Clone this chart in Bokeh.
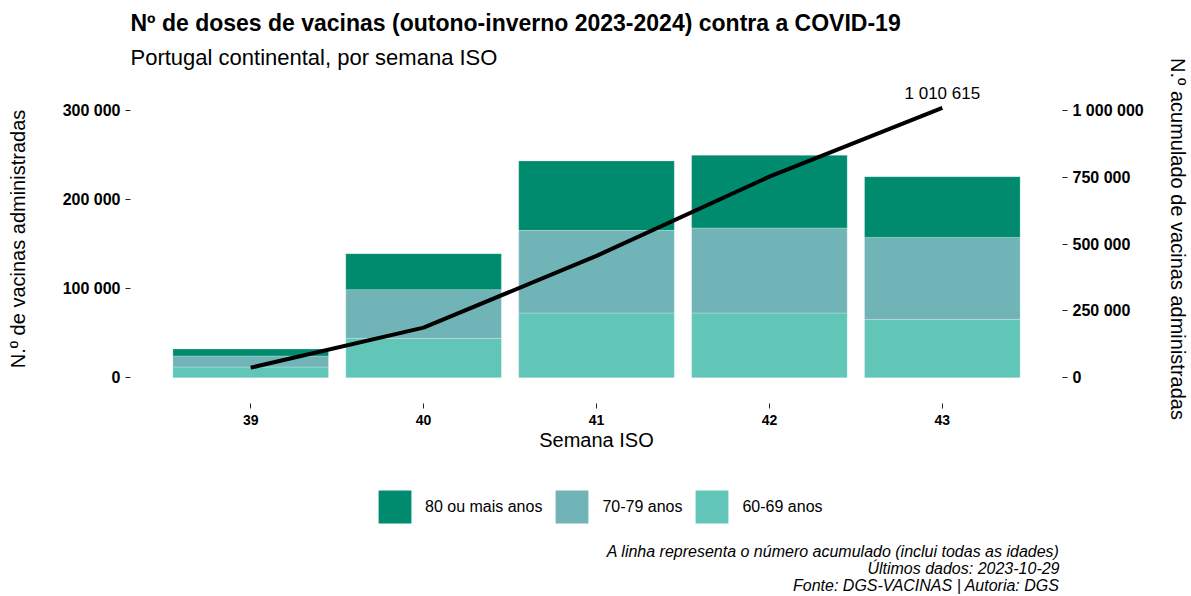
from bokeh.plotting import figure
from bokeh.layouts import column
from bokeh.models import (ColumnDataSource, LinearAxis, Range1d, Legend, LegendItem,
                          Title, Label)
from bokeh.embed import file_html
from bokeh.resources import INLINE

# ---------------- data ----------------
weeks = [39, 40, 41, 42, 43]
age_groups = ["80 ou mais anos", "70-79 anos", "60-69 anos"]
doses_60_69 = [12000, 44200, 72700, 72700, 65500]
doses_70_79 = [12400, 54700, 92800, 95500, 92100]
doses_80_plus = [7800, 40400, 78000, 81600, 68200]
cumulative = [37500, 187500, 456000, 753000, 1010615]
left_ticks = [0, 100000, 200000, 300000]
left_tick_labels = ["0", "100 000", "200 000", "300 000"]
right_ticks = [0, 250000, 500000, 750000, 1000000]
right_tick_labels = ["0", "250 000", "500 000", "750 000", "1 000 000"]
last_label = "1 010 615"
captions = ["A linha representa o número acumulado (inclui todas as idades)",
            "Últimos dados: 2023-10-29",
            "Fonte: DGS-VACINAS | Autoria: DGS"]

colors = {"80 ou mais anos": "#008a6e", "70-79 anos": "#71b4b8", "60-69 anos": "#61c5b8"}
FONT = "Liberation Sans"

Y0, Y1 = -29000, 340600

source = ColumnDataSource(dict(week=weeks, a6069=doses_60_69, a7079=doses_70_79,
                               a80=doses_80_plus))
stack_cols = ["a6069", "a7079", "a80"]
stack_colors = [colors["60-69 anos"], colors["70-79 anos"], colors["80 ou mais anos"]]

p = figure(frame_width=932, frame_height=329,
           x_range=Range1d(38.305, 43.695), y_range=Range1d(Y0, Y1),
           output_backend="svg", toolbar_location=None,
           min_border_left=130, min_border_right=0, min_border_top=0, min_border_bottom=60)
p.extra_y_ranges = {"cum": Range1d(Y0 * 10 / 3, Y1 * 10 / 3)}

p.outline_line_color = None
p.xgrid.visible = False
p.ygrid.visible = False
p.background_fill_color = "white"
p.border_fill_color = "white"

rs = p.vbar_stack(stack_cols, x="week", width=0.9, source=source, color=stack_colors,
                  line_color="white", line_alpha=0.35, line_width=0.7)

p.line(weeks, cumulative, y_range_name="cum", line_width=4, line_color="black")
p.add_layout(Label(x=weeks[-1], y=cumulative[-1], y_range_name="cum", text=last_label,
                   text_align="center", text_baseline="bottom", y_offset=5,
                   text_font=FONT, text_font_size="17px", text_color="black"))

# axes
def style_axis(ax, size):
    ax.axis_line_color = None
    ax.major_tick_line_color = "#222222"
    ax.major_tick_out = 5
    ax.major_tick_in = 0
    ax.minor_tick_line_color = None
    ax.major_label_text_font = FONT
    ax.major_label_text_font_style = "bold"
    ax.major_label_text_font_size = size
    ax.major_label_text_color = "black"
    ax.axis_label_text_font = FONT
    ax.axis_label_text_font_style = "normal"
    ax.axis_label_text_font_size = "20px"
    ax.axis_label_text_color = "black"

xa = p.xaxis[0]
style_axis(xa, "14px")
xa.ticker = weeks
xa.axis_label = "Semana ISO"
xa.major_label_standoff = 6
xa.axis_label_standoff = 1

ya = p.yaxis[0]
style_axis(ya, "16px")
ya.ticker = left_ticks
ya.major_label_overrides = {t: l for t, l in zip(left_ticks, left_tick_labels)}
ya.axis_label = "N.º de vacinas administradas"
ya.major_label_standoff = 5
ya.axis_label_standoff = 31

ra = LinearAxis(y_range_name="cum")
style_axis(ra, "16px")
ra.ticker = right_ticks
ra.major_label_overrides = {t: l for t, l in zip(right_ticks, right_tick_labels)}
ra.axis_label = "N.º acumulado de vacinas administradas"
ra.major_label_standoff = 5
ra.axis_label_standoff = 20
p.add_layout(ra, "right")

# titles (above): subtitle first (closest), then main title, then a small spacer
p.add_layout(Title(text="Portugal continental, por semana ISO", align="left",
                   text_font=FONT, text_font_size="22px", text_font_style="normal",
                   text_color="black", standoff=9), "above")
p.add_layout(Title(text="Nº de doses de vacinas (outono-inverno 2023-2024) contra a COVID-19",
                   align="left", text_font=FONT, text_font_size="23px",
                   text_font_style="bold", text_color="black", standoff=5), "above")
p.add_layout(Title(text=" ", text_font_size="1px", standoff=2), "above")

# ---------- footer strip: legend + captions (frame aligned with the chart's frame) ----------
p2 = figure(width=1190, height=132, x_range=Range1d(100, 101), y_range=Range1d(1e7, 2e7),
            output_backend="svg", toolbar_location=None,
            x_axis_type=None, y_axis_type=None,
            min_border_left=0, min_border_right=0, min_border_top=0, min_border_bottom=0)
p2.outline_line_color = None
p2.xgrid.visible = False
p2.ygrid.visible = False

# key renderers: same data, lying entirely outside this strip's ranges, so only the keys show
keys = p2.vbar_stack(stack_cols, x="week", width=0.9, source=source, color=stack_colors,
                     line_color=None)
items = [LegendItem(label=age_groups[0], renderers=[keys[2]]),
         LegendItem(label=age_groups[1], renderers=[keys[1]]),
         LegendItem(label=age_groups[2], renderers=[keys[0]])]
legend = Legend(items=items, orientation="horizontal", location=(244, 68),
                glyph_width=41, glyph_height=41, label_standoff=10, spacing=9,
                label_text_font=FONT, label_text_font_size="16px", label_text_color="black",
                label_height=41, padding=0, margin=0,
                border_line_color=None, background_fill_alpha=0)
p2.add_layout(legend, "center")

for i, c in enumerate(captions):
    p2.add_layout(Label(x=929, y=44 - 17 * i, x_units="screen", y_units="screen",
                        text=c, text_align="right", text_baseline="middle",
                        text_font=FONT, text_font_size="16px", text_font_style="italic",
                        text_color="black"))

open("out.html", "w").write(file_html(column(p, p2, spacing=0), INLINE))
